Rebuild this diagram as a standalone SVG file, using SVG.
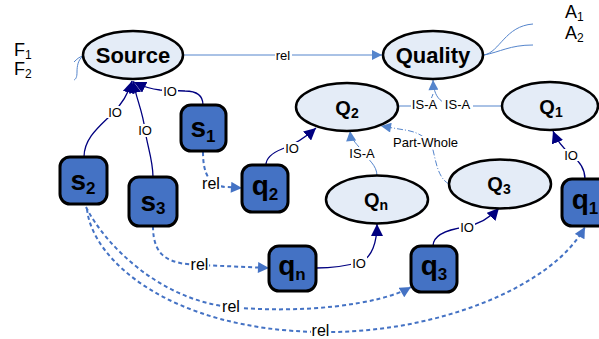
<svg xmlns="http://www.w3.org/2000/svg" width="599" height="339" viewBox="0 0 599 339">
<style>
text{font-family:"Liberation Sans",Arial,sans-serif;fill:#000}
.ell{fill:#E4ECF7;stroke:#000;stroke-width:2.5}
.box{fill:#4472C4;stroke:#000;stroke-width:3}
.big{font-size:22px;font-weight:bold;text-anchor:middle}
.q{font-size:20px;font-weight:bold;text-anchor:middle}
.bx{font-size:28px;font-weight:bold;text-anchor:middle}
.io{fill:none;stroke:#000080;stroke-width:1.3}
.lb{fill:none;stroke:#5585CC;stroke-width:1}
.pw{fill:none;stroke:#5585CC;stroke-width:1;stroke-dasharray:6 2 1 2}
.rel{fill:none;stroke:#4472C4;stroke-width:2;stroke-dasharray:4 3}
.bg{fill:#fff}
.l13{font-size:13px;text-anchor:middle}
.l16{font-size:16px;text-anchor:middle}
.side{font-size:18px}
</style>
<defs>
<marker id="aio" viewBox="0 0 10 10" refX="10" refY="5" markerWidth="12" markerHeight="12" markerUnits="userSpaceOnUse" orient="auto"><path d="M0,0 L10,5 L0,10 z" fill="#000080"/></marker>
<marker id="alb" viewBox="0 0 10 10" refX="10" refY="5" markerWidth="11" markerHeight="10" markerUnits="userSpaceOnUse" orient="auto"><path d="M0,0 L10,5 L0,10 z" fill="#5585CC"/></marker>
<marker id="arel" viewBox="0 0 10 10" refX="10" refY="5" markerWidth="12" markerHeight="11" markerUnits="userSpaceOnUse" orient="auto"><path d="M0,0 L10,5 L0,10 z" fill="#4472C4"/></marker>
</defs>

<g id="connectors">
  <!-- side links -->
  <path class="lb" d="M83,56 C79,57 77,59 74,62"/>
  <path class="lb" d="M83,56 C78,60 77,66 77,72 C77,77 76,79 74,80"/>
  <path class="lb" d="M484,55 C500,52 505,26 533,24"/>
  <path class="lb" d="M484,55 C500,52 510,45 533,45"/>
  <!-- rel Source->Quality -->
  <path class="lb" d="M183,55 L382,55" marker-end="url(#alb)"/>
  <!-- IO to Source -->
  <path class="io" d="M84,157 C84,138 100,126 112,114 C122,104 128,95 132,81" marker-end="url(#aio)"/>
  <path class="io" d="M153,177 C153,160 147,145 145,130 C143,112 136,98 133,81" marker-end="url(#aio)"/>
  <path class="io" d="M203,105 C203,95 197,91 185,91 L160,90 C150,89 142,86 134,82" marker-end="url(#aio)"/>
  <!-- IO q to Q -->
  <path class="io" d="M266,165 C266,158 272,153 282,149 C296,144 306,137 316,128" marker-end="url(#aio)"/>
  <path class="io" d="M316,268 C335,268 350,265 360,262 C372,258 377,242 377,224" marker-end="url(#aio)"/>
  <path class="io" d="M433,246 C433,236 445,230 465,227 C480,224 490,218 499,208" marker-end="url(#aio)"/>
  <path class="io" d="M585,179 C585,168 578,160 571,155 C563,148 557,141 553,131" marker-end="url(#aio)"/>
  <!-- IS-A -->
  <path class="lb" d="M398,106 L420,106 C428,106 431,100 433,94"/>
  <path class="lb" d="M502,106 L465,106 C445,106 434,102 433,80" marker-end="url(#alb)"/>
  <path class="lb" d="M377,176 C377,165 368,160 363,152 C358,145 351,140 350,131" marker-end="url(#alb)"/>
  <!-- Part-Whole -->
  <path class="pw" d="M449,184 C438,178 436,162 433,150 C430,140 420,132 405,130 L381,126" marker-end="url(#alb)"/>
  <!-- rel dashed -->
  <path class="rel" d="M203,152 C203,175 210,186 226,187 L242,188" marker-end="url(#arel)"/>
  <path class="rel" d="M153,226 C153,258 170,264 200,265 L269,268" marker-end="url(#arel)"/>
  <path class="rel" d="M86,207 C105,245 160,300 230,307 C300,314 380,305 411,287" marker-end="url(#arel)"/>
  <path class="rel" d="M87,209 C92,260 170,330 320,332 C430,334 550,290 585,227" marker-end="url(#arel)"/>

  <!-- labels -->
  <rect class="bg" x="275" y="49" width="17" height="12"/><text class="l13" x="283" y="59.5">rel</text>
  <rect class="bg" x="162" y="85" width="16" height="12"/><text class="l13" x="170" y="95.5">IO</text>
  <rect class="bg" x="107" y="106" width="16" height="12"/><text class="l13" x="115" y="116.5">IO</text>
  <rect class="bg" x="137" y="124" width="16" height="13"/><text class="l13" x="145" y="135">IO</text>
  <rect class="bg" x="284" y="142" width="16" height="12"/><text class="l13" x="292" y="152.5">IO</text>
  <rect class="bg" x="351" y="257" width="16" height="12"/><text class="l13" x="359" y="267.5">IO</text>
  <rect class="bg" x="459" y="221" width="16" height="12"/><text class="l13" x="467" y="231.5">IO</text>
  <rect class="bg" x="563" y="149" width="16" height="12"/><text class="l13" x="571" y="159.5">IO</text>
  <rect class="bg" x="411" y="98" width="27" height="13"/><text class="l13" x="424.5" y="108.5">IS-A</text>
  <rect class="bg" x="442" y="98" width="31" height="13"/><text class="l13" x="457.5" y="108.5">IS-A</text>
  <rect class="bg" x="348" y="147" width="28" height="13"/><text class="l13" x="362" y="157.5">IS-A</text>
  <rect class="bg" x="392" y="136" width="67" height="13"/><text class="l13" x="425.5" y="146.5">Part-Whole</text>
  <rect class="bg" x="201" y="177" width="20" height="13"/><text class="l16" x="211" y="189">rel</text>
  <rect class="bg" x="190" y="258" width="19" height="14"/><text class="l16" x="199.5" y="270">rel</text>
  <rect class="bg" x="221" y="300" width="20" height="14"/><text class="l16" x="231" y="312">rel</text>
  <rect class="bg" x="311" y="324" width="19" height="14"/><text class="l16" x="320.5" y="336">rel</text>
</g>

<g id="F-labels"><text class="side" x="14" y="56">F<tspan font-size="12" dy="3">1</tspan></text><text class="side" x="14" y="75">F<tspan font-size="12" dy="3">2</tspan></text></g>
<g id="A-labels"><text class="side" x="565" y="18">A<tspan font-size="12" dy="3">1</tspan></text><text class="side" x="565" y="39">A<tspan font-size="12" dy="3">2</tspan></text></g>

<g id="Source"><ellipse class="ell" cx="133" cy="55" rx="50" ry="24"/><text class="big" x="133" y="62.5">Source</text></g>
<g id="Quality"><ellipse class="ell" cx="433" cy="55" rx="50" ry="24"/><text class="big" x="433" y="62.5">Quality</text></g>
<g id="Q2"><ellipse class="ell" cx="347" cy="107" rx="51" ry="24"/><text class="q" x="347" y="115">Q<tspan font-size="14" dy="3">2</tspan></text></g>
<g id="Q1"><ellipse class="ell" cx="550" cy="106" rx="48" ry="24"/><text class="q" x="551" y="113.5">Q<tspan font-size="14" dy="3">1</tspan></text></g>
<g id="Q3"><ellipse class="ell" cx="500" cy="184" rx="51" ry="24.5"/><text class="q" x="499" y="191">Q<tspan font-size="14" dy="3">3</tspan></text></g>
<g id="Qn"><ellipse class="ell" cx="377" cy="199.5" rx="51" ry="24"/><text class="q" x="376" y="207">Q<tspan font-size="14" dy="3">n</tspan></text></g>

<g id="s1"><rect class="box" x="181" y="105" width="45" height="46" rx="10"/><text class="bx" x="203" y="137">s<tspan font-size="17" dy="5">1</tspan></text></g>
<g id="s2"><rect class="box" x="60" y="157" width="47" height="47" rx="10"/><text class="bx" x="83" y="190">s<tspan font-size="17" dy="4">2</tspan></text></g>
<g id="s3"><rect class="box" x="129" y="177" width="48" height="49" rx="10"/><text class="bx" x="153" y="211">s<tspan font-size="17" dy="3">3</tspan></text></g>
<g id="q2"><rect class="box" x="242" y="165" width="46" height="47" rx="10"/><text class="bx" x="265" y="195">q<tspan font-size="17" dy="5">2</tspan></text></g>
<g id="qn"><rect class="box" x="269" y="246" width="47" height="45" rx="10"/><text class="bx" x="292" y="275">q<tspan font-size="17" dy="5">n</tspan></text></g>
<g id="q3"><rect class="box" x="411" y="246" width="46" height="46" rx="10"/><text class="bx" x="434" y="275">q<tspan font-size="17" dy="5">3</tspan></text></g>
<g id="q1"><rect class="box" x="562" y="179" width="47" height="47" rx="10"/><text class="bx" x="585" y="209">q<tspan font-size="17" dy="5">1</tspan></text></g>
</svg>
